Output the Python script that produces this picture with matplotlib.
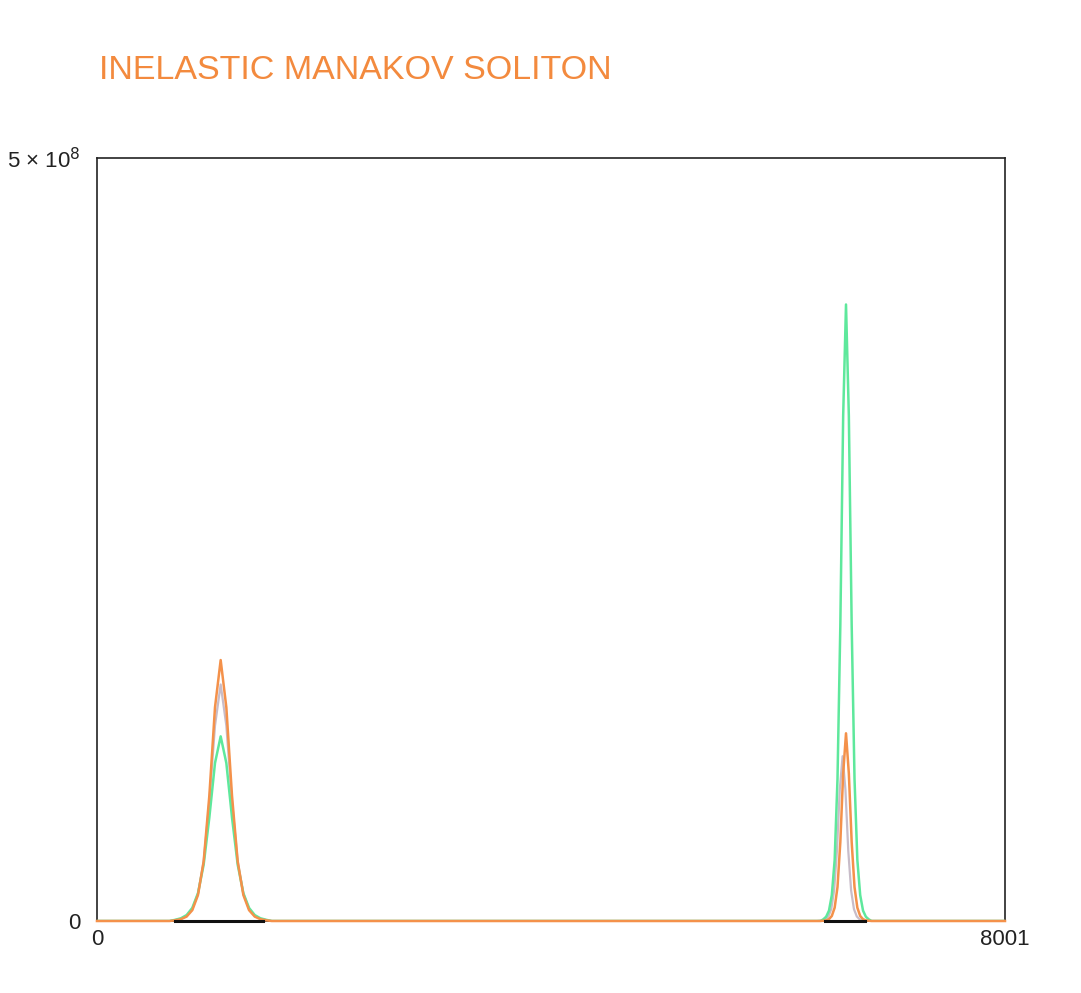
import numpy as np
import matplotlib.pyplot as plt

plt.rcParams['font.family'] = ['Liberation Sans', 'DejaVu Sans']

# grid extent and axis limits
x_max = 8001
y_max = 5e8

# left collision product (values in units of 1e8)
x_left = [640, 690, 740, 790, 840, 890, 940, 990, 1040, 1090,
          1140, 1190, 1240, 1290, 1340, 1390, 1440, 1490, 1540]
orange_left = [0, 0.005, 0.012, 0.029, 0.071, 0.17, 0.39, 0.82, 1.40, 1.71,
               1.40, 0.82, 0.39, 0.17, 0.071, 0.029, 0.012, 0.005, 0]
green_left = [0, 0.008, 0.018, 0.039, 0.086, 0.182, 0.369, 0.677, 1.035, 1.21,
              1.035, 0.677, 0.369, 0.182, 0.086, 0.039, 0.018, 0.008, 0]
gray_left = [0, 0.006, 0.014, 0.033, 0.078, 0.18, 0.39, 0.78, 1.28, 1.55,
             1.28, 0.78, 0.39, 0.18, 0.078, 0.033, 0.014, 0.006, 0]

# right collision product
x_right = [6375, 6400, 6425, 6450, 6475, 6500, 6525, 6550, 6575, 6600,
           6625, 6650, 6675, 6700, 6725, 6750, 6775, 6800, 6825]
green_right = [0, 0.011, 0.028, 0.068, 0.17, 0.40, 0.93, 1.94, 3.31, 4.04,
               3.31, 1.94, 0.93, 0.40, 0.17, 0.068, 0.028, 0.011, 0]
orange_right = [0, 0.002, 0.004, 0.012, 0.033, 0.087, 0.222, 0.517, 0.967, 1.23,
                0.967, 0.517, 0.222, 0.087, 0.033, 0.012, 0.004, 0.002, 0]
x_gray_right = [6345, 6370, 6395, 6420, 6445, 6470, 6495, 6520, 6545, 6570,
                6595, 6620, 6645, 6670, 6695, 6720, 6745, 6770, 6795]
gray_right = [0, 0.002, 0.004, 0.011, 0.03, 0.078, 0.2, 0.46, 0.86, 1.08,
              0.86, 0.46, 0.2, 0.078, 0.03, 0.011, 0.004, 0.002, 0]

# dark component, flat at zero under both pulses
x_dark = [[690, 1460], [6415, 6770]]


def full_profile(xl, yl, xr, yr):
    xs = [0] + xl + xr + [x_max]
    ys = [0] + yl + yr + [0]
    return np.array(xs), np.array(ys) * 1e8


fig = plt.figure(figsize=(10.81, 9.93), dpi=100)
ax = fig.add_axes([0.0897, 0.0725, 0.84, 0.7684])

xs, ys = full_profile(x_left, gray_left, x_gray_right, gray_right)
ax.plot(xs, ys, color='#c8bcc8', lw=1.6, zorder=3)
xs, ys = full_profile(x_left, green_left, x_right, green_right)
ax.plot(xs, ys, color='#5ee89c', lw=1.8, zorder=3.1)
xs, ys = full_profile(x_left, orange_left, x_right, orange_right)
ax.plot(xs, ys, color='#f4914a', lw=1.8, zorder=3.2, clip_on=False)
for seg in x_dark:
    ax.plot(seg, [0, 0], color='#111111', lw=2.2, zorder=4, clip_on=False)

ax.set_xlim(0, x_max)
ax.set_ylim(0, y_max)
ax.set_xticks([0, x_max])
ax.set_xticklabels(['0', '8001'])
ax.set_yticks([0, y_max])
ax.set_yticklabels(['0', r'5 × 10$^{8}$'])
ax.tick_params(length=0, labelsize=16, colors='#222222')
ax.tick_params(axis='y', pad=12)
ax.tick_params(axis='x', pad=6)
for side in ['left', 'top', 'right', 'bottom']:
    ax.spines[side].set_color('#222222')
    ax.spines[side].set_linewidth(1.2)

fig.text(0.092, 0.929, 'INELASTIC MANAKOV SOLITON', color='#f38a3e',
         fontsize=24.5, ha='left', va='center')

fig.savefig('out.png', dpi=100, facecolor='white')
